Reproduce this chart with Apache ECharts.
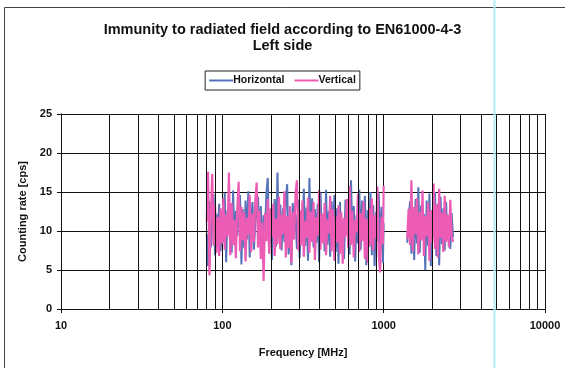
<!DOCTYPE html>
<html><head><meta charset="utf-8">
<script src="https://cdn.jsdelivr.net/npm/echarts@6/dist/echarts.min.js"></script>
<style>html,body{margin:0;padding:0;background:#fff}#c{width:565px;height:368px}</style>
</head><body><div id="c"></div>
<script>
// Frequencies (MHz), first sweep 80–1000 MHz
const freqLow = [80,81.6,83.2,84.9,86.6,88.3,90.1,91.9,93.7,95.6,97.5,99.5,101.5,103.5,105.6,107.7,109.8,112.0,114.3,116.6,118.9,121.3,123.7,126.2,128.7,131.3,133.9,136.6,139.3,142.1,144.9,147.8,150.8,153.8,156.9,160.0,163.2,166.5,169.8,173.2,176.7,180.2,183.8,187.5,191.2,195.1,199.0,202.9,207.0,211.1,215.4,219.7,224.1,228.6,233.1,237.8,242.5,247.4,252.3,257.4,262.5,267.8,273.1,278.6,284.2,289.9,295.7,301.6,307.6,313.8,320.0,326.4,333.0,339.6,346.4,353.3,360.4,367.6,375.0,382.5,390.1,397.9,405.9,414.0,422.3,430.7,439.3,448.1,457.1,466.2,475.5,485.0,494.7,504.6,514.7,525.0,535.5,546.2,557.2,568.3,579.7,591.3,603.1,615.2,627.5,640.0,652.8,665.9,679.2,692.8,706.7,720.8,735.2,749.9,764.9,780.2,795.8,811.7,828.0,844.5,861.4,878.6,896.2,914.1,932.4,951.1,970.1,989.5,1000];
// Second sweep 1400–2700 MHz
const freqHigh = [1400,1428,1457,1486,1515,1546,1577,1608,1640,1673,1707,1741,1775,1811,1847,1884,1922,1960,2000,2040,2080,2122,2164,2208,2252,2297,2343,2390,2437,2486,2536,2587,2638,2691];

// Horizontal polarisation, counting rate [cps]
const horizontalLow = [9.6,5.5,13.8,7.9,11.6,14.7,6.9,12.2,9.1,13.5,7.4,11.8,8.6,14.9,6.0,12.7,9.8,13.1,7.2,15.2,8.3,12.6,9.4,11.9,14.6,5.7,12.8,7.8,13.9,8.9,15.1,6.6,11.4,13.7,7.6,10.9,12.5,14.4,8.8,13.2,7.1,12.0,9.7,14.8,16.8,8.4,12.3,6.3,11.7,14.1,8.0,17.5,9.2,13.4,7.5,12.9,8.6,14.3,16.0,7.0,11.5,5.6,13.6,9.9,12.1,7.7,14.0,6.5,12.4,9.0,15.4,8.1,13.0,6.2,16.8,9.5,14.2,7.9,12.8,8.5,13.5,6.0,14.9,9.3,12.2,7.4,15.3,8.2,12.6,6.7,13.8,9.1,14.6,7.3,12.9,5.8,13.7,8.8,11.3,6.4,14.0,9.6,12.5,7.0,16.5,8.9,13.2,6.1,12.0,8.4,15.3,7.6,13.9,9.2,14.5,5.6,12.7,8.0,15.0,6.9,13.3,5.5,12.4,8.7,14.8,7.2,13.1,5.9,11.0];
const horizontalHigh = [8.5,11.4,13.8,7.1,12.5,6.3,14.1,8.4,15.6,7.2,13.3,9.0,12.2,5.0,13.9,8.1,14.8,5.5,12.6,9.2,15.0,6.8,13.5,5.6,14.4,8.3,12.9,7.5,13.7,8.9,11.8,7.7,12.3,9.2];
// Vertical polarisation, counting rate [cps]
const verticalLow = [11.2,17.6,4.3,12.5,17.3,8.1,13.4,7.2,11.8,6.8,12.9,8.4,14.2,7.6,12.1,9.3,17.5,6.9,13.6,8.2,11.4,6.5,12.8,16.3,7.4,13.1,8.8,12.4,6.1,11.7,9.5,14.6,7.3,12.2,8.6,13.8,16.2,7.9,12.6,6.4,11.1,3.6,12.3,8.7,14.1,7.1,12.9,9.2,13.5,6.8,11.6,8.3,14.4,7.7,12.1,9.6,15.1,6.6,11.9,7.8,13.2,5.9,12.4,8.9,14.8,16.5,7.5,12.7,8.1,13.9,6.7,11.3,9.1,14.3,7.2,12.5,8.6,13.7,6.3,11.8,9.4,15.3,7.6,12.2,8.4,13.6,6.9,11.5,9.7,14.5,7.4,12.8,6.2,11.9,8.5,13.3,7.1,12.4,5.8,11.7,9.3,14.1,7.8,15.8,8.2,12.6,6.6,11.4,9.8,14.7,7.3,12.3,8.7,13.8,6.4,11.6,5.9,12.9,8.1,14.2,7.5,12.0,9.0,15.7,6.8,4.7,11.8,8.3,15.8];
const verticalHigh = [9.0,12.8,8.2,16.5,7.4,13.1,9.6,14.2,7.0,12.4,8.8,15.2,6.8,11.9,9.3,13.6,6.2,12.7,8.5,16.1,7.7,13.4,6.6,15.4,9.1,12.3,7.3,14.5,8.6,12.1,7.9,14.0,9.4,8.6];

// Minor log grid lines and axis texts
const minorGrid = [20,30,40,50,60,70,80,90,200,300,400,500,600,700,800,900,2000,3000,4000,5000,6000,7000,8000,9000];
const seriesNames = ['Horizontal','Vertical'];
const titleText = 'Immunity to radiated field according to EN61000-4-3\nLeft side';
const xName = 'Frequency [MHz]';
const yName = 'Counting rate [cps]';

function build(fl, vl, fh, vh){
  return fl.map((f,i)=>[f, vl[i]]).concat([[1200,'-']]).concat(fh.map((f,i)=>[f, vh[i]]));
}

const FONT = '"Liberation Sans", Arial, sans-serif';
const chart = echarts.init(document.getElementById('c'), null, {renderer:'canvas'});
chart.setOption({
  animation:false,
  backgroundColor:'#fff',
  title:{text:titleText, left:'center', top:17,
    textStyle:{fontFamily:FONT, fontWeight:'bold', fontSize:14.5, lineHeight:16, color:'#111'}},
  legend:{data:seriesNames, top:71, left:'center', icon:'rect', itemWidth:24, itemHeight:2, itemGap:10,
    borderColor:'#222', borderWidth:1, padding:[4,4], borderRadius:0,
    textStyle:{fontFamily:FONT, fontWeight:'bold', fontSize:10.5, color:'#111', padding:[0,0,0,-5]}},
  grid:{left:61, right:20, top:114, bottom:59},
  xAxis:{type:'log', logBase:10, min:10, max:10000,
    name:xName, nameLocation:'middle', nameGap:38,
    nameTextStyle:{fontFamily:FONT, fontWeight:'bold', fontSize:11, color:'#111'},
    axisLine:{lineStyle:{color:'#111', width:1}},
    axisTick:{show:true, length:4, lineStyle:{color:'#111'}},
    axisLabel:{fontFamily:FONT, fontWeight:'bold', fontSize:11, color:'#111', margin:11,
      formatter:v=>String(Math.round(v))},
    splitLine:{show:true, lineStyle:{color:'#111', width:1}}},
  yAxis:{type:'value', min:0, max:25, interval:5,
    name:yName, nameLocation:'middle', nameGap:29,
    nameTextStyle:{fontFamily:FONT, fontWeight:'bold', fontSize:11, color:'#111'},
    axisLine:{show:true, lineStyle:{color:'#111', width:1}},
    axisTick:{show:true, length:4, lineStyle:{color:'#111'}},
    axisLabel:{fontFamily:FONT, fontWeight:'bold', fontSize:11, color:'#111', margin:9},
    splitLine:{show:true, lineStyle:{color:'#111', width:1}}},
  graphic:[
    {type:'rect', shape:{x:4.5, y:7.5, width:600, height:400}, style:{fill:'none', stroke:'#444', lineWidth:1}, silent:true, z:-1},
    {type:'line', shape:{x1:494.5, y1:0, x2:494.5, y2:368}, style:{stroke:'#b5ecf2', lineWidth:2}, silent:true, z:100}
  ],
  series:[
    {type:'line', name:'grid', data:[], silent:true,
      markLine:{silent:true, symbol:'none', label:{show:false},
        lineStyle:{color:'#111', width:1, type:'solid'},
        data:minorGrid.map(v=>({xAxis:v}))}},
    {type:'line', name:seriesNames[0], data:build(freqLow, horizontalLow, freqHigh, horizontalHigh),
      showSymbol:false, connectNulls:false, color:'#5573b8', lineStyle:{width:2, color:'#5573b8'}},
    {type:'line', name:seriesNames[1], data:build(freqLow, verticalLow, freqHigh, verticalHigh),
      showSymbol:false, connectNulls:false, color:'#ec5cb4', lineStyle:{width:2.2, color:'#ec5cb4'}}
  ]
});
</script></body></html>
